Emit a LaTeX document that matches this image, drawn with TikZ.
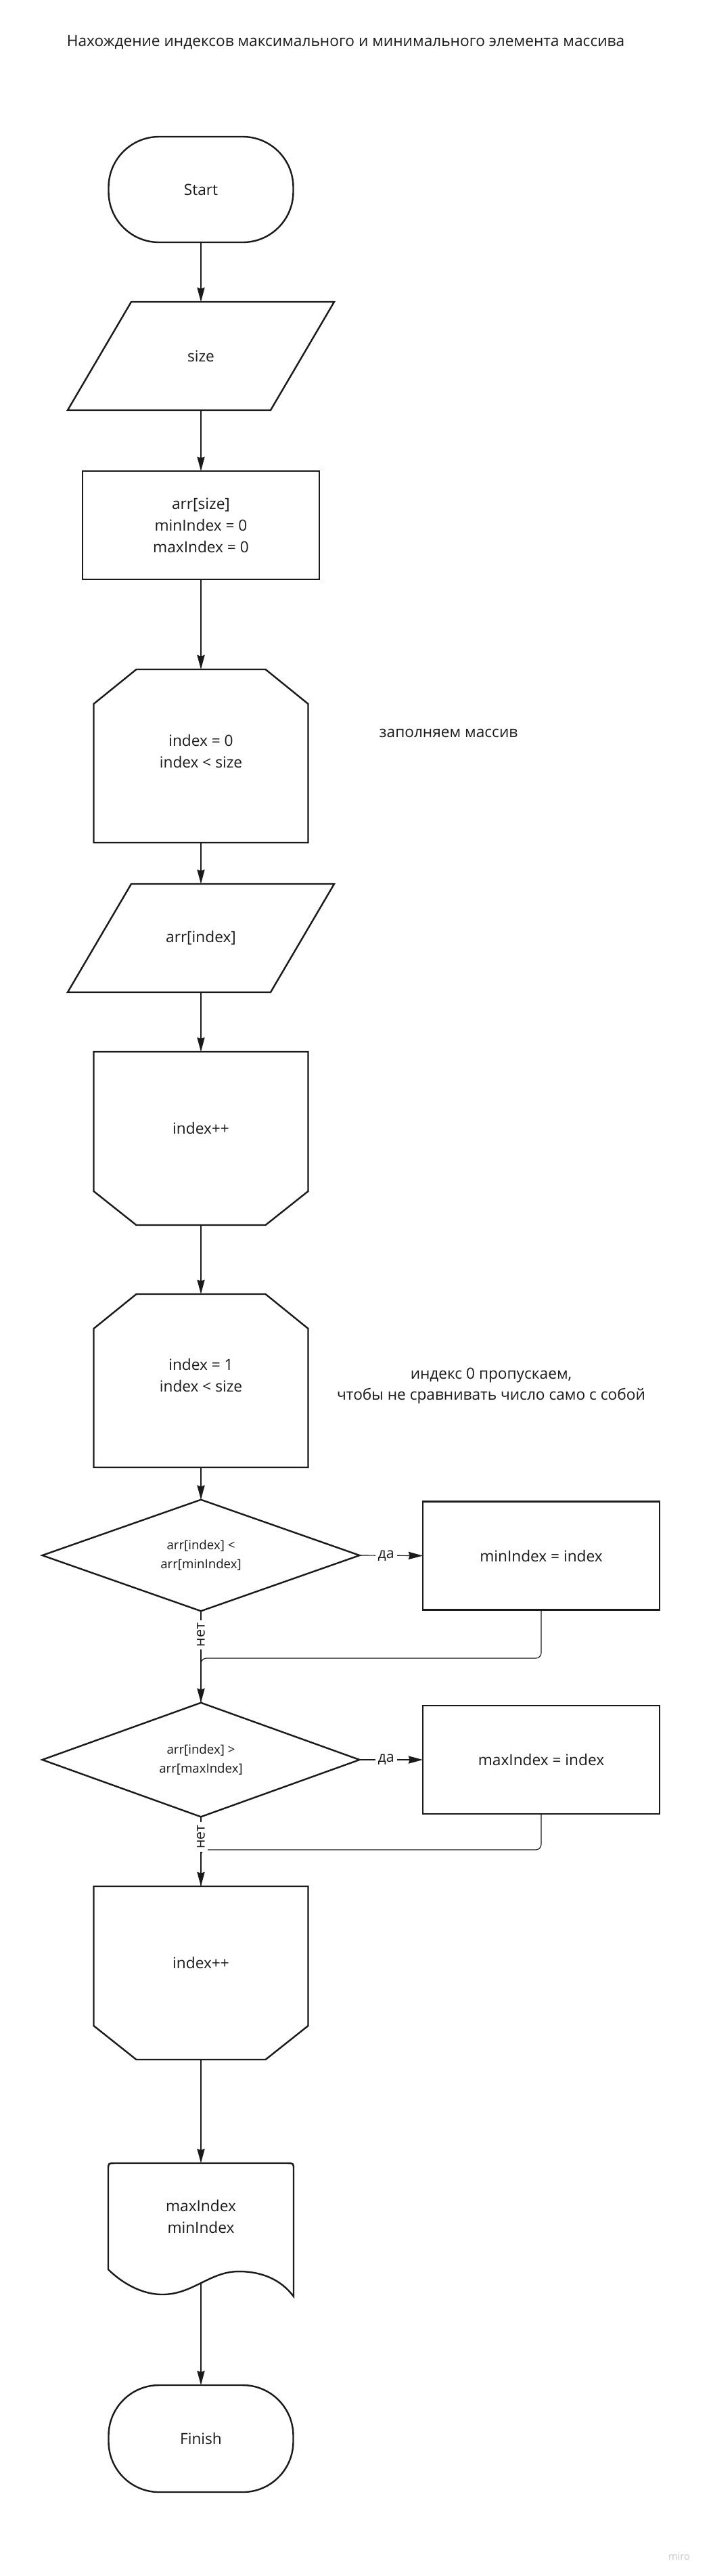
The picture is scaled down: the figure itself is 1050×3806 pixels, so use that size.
\documentclass[tikz,border=0pt]{standalone}
\usepackage{fontspec}
\setmainfont{Open Sans}
\usetikzlibrary{calc,arrows.meta,shapes.geometric}
\definecolor{ink}{HTML}{1A1A1A}
\def\PX{0.75pt}
\begin{document}
\begin{tikzpicture}[x=0.75pt,y=-0.75pt,
  shp/.style={draw=ink, line width=1.8pt, line join=miter},
  ph/.style={draw=none, inner sep=0pt, outer sep=0pt, text=ink, font=\fontsize{17}{24}\selectfont, align=center},
  txt/.style={inner sep=0pt, text=ink, font=\fontsize{17}{24}\selectfont, align=center},
  dtxt/.style={font=\fontsize{14}{21}\selectfont},
  conn/.style={draw=ink, line width=0.9pt},
  arr/.style={conn, -{Stealth[length=16pt,width=8.5pt,inset=1.5pt]}},
  lbl/.style={fill=white, inner sep=3pt, text=ink, font=\fontsize{16}{18}\selectfont},
]
\fill[white] (0,0) rectangle (1050,3806);
\useasboundingbox (0,0) rectangle (1050,3806);

% title
\node[txt] (title) at (511,63) {Нахождение индексов максимального и минимального элемента массива};

% start
\node[ph, shp, rounded corners=56pt, minimum width=273*\PX, minimum height=156*\PX] (st) at (297,280) {Start};

% input size
\node[ph, minimum width=394*\PX, minimum height=160*\PX] (sz) at (297,526) {size};
\draw[shp] ($(sz.north west)+(94,0)$) -- (sz.north east) -- ($(sz.south east)+(-94,0)$) -- (sz.south west) -- cycle;

% init
\node[ph, shp, minimum width=350*\PX, minimum height=160*\PX] (init) at (297,776) {arr[size]\\minIndex = 0\\maxIndex = 0};

% loop start 1
\node[ph, minimum width=317*\PX, minimum height=256*\PX] (h1) at (297,1117) {};
\draw[shp] ($(h1.north west)+(63,0)$) -- ($(h1.north east)+(-63,0)$) -- ($(h1.north east)+(0,51)$) -- (h1.south east) -- (h1.south west) -- ($(h1.north west)+(0,51)$) -- cycle;
\node[txt] (th1) at (297,1109.5) {index = 0\\index < size};
\node[txt] (c1) at (663,1083) {заполняем массив};

% input arr[index]
\node[ph, minimum width=394*\PX, minimum height=160*\PX] (p2) at (297,1386) {arr[index]};
\draw[shp] ($(p2.north west)+(94,0)$) -- (p2.north east) -- ($(p2.south east)+(-94,0)$) -- (p2.south west) -- cycle;

% loop end 1
\node[ph, minimum width=317*\PX, minimum height=256*\PX] (he1) at (297,1682) {};
\draw[shp] (he1.north west) -- (he1.north east) -- ($(he1.south east)+(0,-50)$) -- ($(he1.south east)+(-63,0)$) -- ($(he1.south west)+(63,0)$) -- ($(he1.south west)+(0,-50)$) -- cycle;
\node[txt] (the1) at (297,1667) {index++};

% loop start 2
\node[ph, minimum width=317*\PX, minimum height=256*\PX] (h2) at (297,2040) {};
\draw[shp] ($(h2.north west)+(63,0)$) -- ($(h2.north east)+(-63,0)$) -- ($(h2.north east)+(0,51)$) -- (h2.south east) -- (h2.south west) -- ($(h2.north west)+(0,51)$) -- cycle;
\node[txt] (th2) at (297,2031.5) {index = 1\\index < size};
\node[txt, font=\fontsize{17}{23}\selectfont] (c2) at (726,2047.5) {индекс 0 пропускаем,\\чтобы не сравнивать число само с собой};

% decision 1
\node[ph, shp, diamond, dtxt, minimum width=469*\PX, minimum height=160*\PX] (d1) at (297,2298) {arr[index] <\\arr[minIndex]};
\node[ph, shp, minimum width=350*\PX, minimum height=160*\PX] (minb) at (800,2298.5) {minIndex = index};
\coordinate (m1) at (297,2450);

% decision 2
\node[ph, shp, diamond, dtxt, minimum width=469*\PX, minimum height=160*\PX] (d2) at (297,2600) {arr[index] >\\arr[maxIndex]};
\node[ph, shp, minimum width=350*\PX, minimum height=160*\PX] (maxb) at (800,2600) {maxIndex = index};
\coordinate (m2) at (297,2733);

% loop end 2
\node[ph, minimum width=317*\PX, minimum height=256*\PX] (he2) at (297,2915) {};
\draw[shp] (he2.north west) -- (he2.north east) -- ($(he2.south east)+(0,-50)$) -- ($(he2.south east)+(-63,0)$) -- ($(he2.south west)+(63,0)$) -- ($(he2.south west)+(0,-50)$) -- cycle;
\node[txt] (the2) at (297,2900) {index++};

% output document
\node[ph, minimum width=274*\PX, minimum height=197*\PX] (doc) at (297,3294.5) {};
\draw[shp] ($(doc.south west)+(0,-40)$) -- ($(doc.north west)+(0,10)$)
  .. controls (doc.north west) .. ($(doc.north west)+(10,0)$)
  -- ($(doc.north east)+(-10,0)$)
  .. controls (doc.north east) .. ($(doc.north east)+(0,10)$)
  -- (doc.south east)
  .. controls ($(doc.south west)+(250,-32)$) and ($(doc.south west)+(215,-37)$) .. ($(doc.south west)+(193,-37)$)
  .. controls ($(doc.south west)+(150,-37)$) and ($(doc.south west)+(125,-3)$) .. ($(doc.south west)+(80,-3)$)
  .. controls ($(doc.south west)+(45,-3)$) and ($(doc.south west)+(15,-25)$) .. cycle;
\coordinate (dw) at ($(doc.south west)+(137,-20)$);
\node[txt] (tdoc) at (297,3274.5) {maxIndex\\minIndex};

% finish
\node[ph, shp, rounded corners=56pt, minimum width=273*\PX, minimum height=158*\PX] (fin) at (297,3603) {Finish};

\node[inner sep=0pt, text=black!22, font=\fontsize{11}{13}\selectfont] (wm) at (1004,3777) {miro};

% connectors
\draw[arr] (st.south) -- (sz.north);
\draw[arr] (sz.south) -- (init.north);
\draw[arr] (init.south) -- (h1.north);
\draw[arr] (h1.south) -- (p2.north);
\draw[arr] (p2.south) -- (he1.north);
\draw[arr] (he1.south) -- (h2.north);
\draw[arr] (h2.south) -- (d1.north);
\draw[arr] (d1.east) -- node[lbl, pos=0.42] (yes1) {да} (minb.west);
\draw[conn, rounded corners=6pt] (minb.south) |- (m1) -- (d2.north);
\draw[arr] (d1.south) -- node[lbl, rotate=90, pos=0.26] (no1) {нет} (d2.north);
\draw[arr] (d2.east) -- node[lbl, pos=0.42] (yes2) {да} (maxb.west);
\draw[conn, rounded corners=6pt] (maxb.south) |- (m2) -- (he2.north);
\draw[arr] (d2.south) -- node[lbl, rotate=90, pos=0.29] (no2) {нет} (he2.north);
\draw[arr] (he2.south) -- (doc.north);
\draw[arr] (dw) -- (fin.north);
\end{tikzpicture}
\end{document}
